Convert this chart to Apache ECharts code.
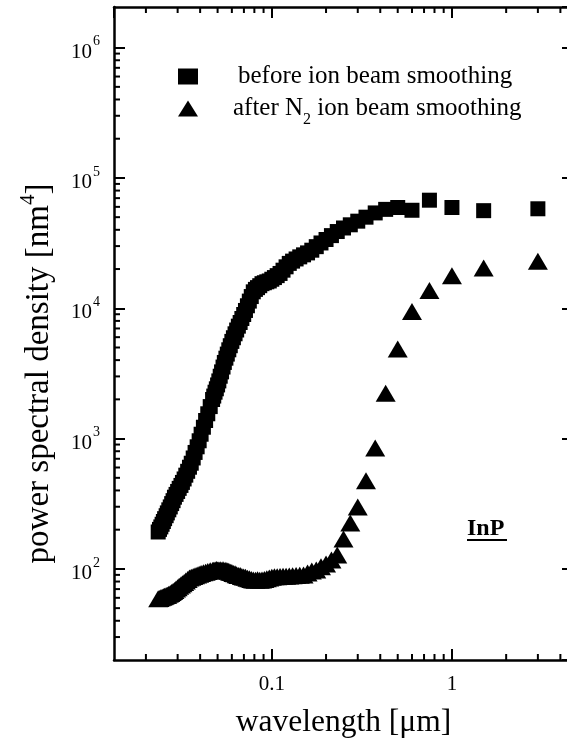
<!DOCTYPE html>
<html>
<head>
<meta charset="utf-8">
<script src="https://cdn.jsdelivr.net/npm/echarts@6/dist/echarts.min.js"></script>
<style>
  html, body { margin: 0; padding: 0; background: #fff; }
  #chart { width: 567px; height: 744px; }
</style>
</head>
<body>
<div id="chart"></div>
<script>
// Wavelength of each PSD point, in micrometres
const wavelength = [
  3, 1.5, 1, 0.75, 0.6, 0.5, 0.4286, 0.375, 0.3333, 0.3,
  0.2727, 0.25, 0.2308, 0.2143, 0.2, 0.1875, 0.1765, 0.1667, 0.1579, 0.15,
  0.1429, 0.1364, 0.1304, 0.125, 0.12, 0.1154, 0.1111, 0.1071, 0.1034, 0.1,
  0.0968, 0.0938, 0.0909, 0.0882, 0.0857, 0.0833, 0.0811, 0.0789, 0.0769, 0.075,
  0.0732, 0.0714, 0.0698, 0.0682, 0.0667, 0.0652, 0.0638, 0.0625, 0.0612, 0.06,
  0.0588, 0.0577, 0.0566, 0.0556, 0.0545, 0.0536, 0.0526, 0.0517, 0.0508, 0.05,
  0.0492, 0.0484, 0.0476, 0.0469,
  0.0455, 0.0441, 0.0429, 0.0417, 0.0405, 0.0395, 0.0385, 0.0375, 0.0366, 0.0357,
  0.0349, 0.0341, 0.0333, 0.0326, 0.0319, 0.0313, 0.0306, 0.03, 0.0294, 0.0288,
  0.0283, 0.0278, 0.0273, 0.0268, 0.0263, 0.0259, 0.0254, 0.025, 0.0246, 0.0242,
  0.0238, 0.0234
];

// Power spectral density [nm^4] before smoothing
const psdBefore = [
  58000, 56100, 59300, 67500, 56500, 59300, 57400, 53900, 50000, 46600,
  43700, 41300, 38800, 36100, 33700, 31700, 29700, 27900, 26600, 25700,
  24800, 23900, 23000, 22100, 20800, 19600, 18500, 17800, 17200, 16700,
  16200, 15960, 15700, 15450, 14900, 14400, 13960, 13370, 12300, 11350,
  10450, 9620, 8960, 8350, 7780, 7290, 6810, 6370, 5940, 5570,
  5160, 4800, 4450, 4140, 3840, 3540, 3250, 3010, 2770, 2580,
  2410, 2270, 2120, 1995,
  1760, 1550, 1377, 1222, 1080, 962, 865, 783, 710, 647,
  603, 561, 524, 490, 461, 437, 415, 393, 373, 355,
  334, 317, 299, 284, 269, 256, 243, 231, 220, 210,
  201, 192
];

// Power spectral density [nm^4] after N2 ion beam smoothing
const psdAfter = [
  22900, 20400, 17800, 13700, 9440, 4870, 2230, 845, 474, 299,
  225, 170, 128, 117, 109, 104, 98.2, 96.5, 93.2, 89.9,
  89.6, 89.1, 88.7, 88.4, 88.0, 87.7, 87.4, 87.2, 86.9, 86.4,
  85.1, 84.1, 82.9, 82.3, 82.0, 82.6, 81.8, 82.3, 83.0, 83.9,
  84.8, 86.2, 86.5, 87.4, 88.9, 89.1, 90.3, 91.8, 92.4, 93.8,
  94.3, 96.0, 96.2, 97.6, 96.9, 98.4, 97.4, 98.6, 97.9, 98.1,
  99.0, 97.9, 97.6, 97.2,
  96.7, 95.5, 94.3, 93.3, 92.2, 91.0, 89.8, 88.5, 87.4, 86.2,
  85.0, 82.8, 80.7, 78.8, 76.9, 75.2, 73.5, 71.7, 70.0, 68.4,
  67.0, 65.8, 64.7, 63.8, 62.9, 62.4, 61.8, 61.2, 60.7, 60.0,
  59.4, 58.9
];

// Minor tick positions (2..9 within each decade)
const xMinorTicks = [0.02, 0.03, 0.04, 0.05, 0.06, 0.07, 0.08, 0.09,
  0.2, 0.3, 0.4, 0.5, 0.6, 0.7, 0.8, 0.9, 2, 3, 4];
const yMinorTicks = [30, 40, 50, 60, 70, 80, 90,
  200, 300, 400, 500, 600, 700, 800, 900,
  2000, 3000, 4000, 5000, 6000, 7000, 8000, 9000,
  20000, 30000, 40000, 50000, 60000, 70000, 80000, 90000,
  200000, 300000, 400000, 500000, 600000, 700000, 800000, 900000];

const NAME_BEFORE = 'before ion beam smoothing';
const NAME_AFTER = 'after N2 ion beam smoothing';

const FONT = '"Liberation Serif", "Times New Roman", Times, serif';
const X_MIN = 0.0133, X_MAX = 4.7;
const Y_MIN = 20, Y_MAX = 2.05e6;

function pairs(xs, ys) { return xs.map((x, i) => [x, ys[i]]); }
function isDecade(v) {
  const e = Math.log10(v);
  return Math.abs(e - Math.round(e)) < 1e-6;
}

const lineStyle = { color: '#000', width: 2.5 };
const tickStyle = { color: '#000', width: 2 };

function xAxisCfg(position, showLabels) {
  return {
    type: 'log', logBase: 10, position: position, min: X_MIN, max: X_MAX,
    splitLine: { show: false },
    axisLine: { show: true, onZero: false, lineStyle: lineStyle },
    axisTick: { show: true, inside: true, length: 11, lineStyle: tickStyle },
    minorTick: { show: false },
    axisLabel: {
      show: showLabels, margin: 14, color: '#000', fontFamily: FONT, fontSize: 21,
      showMinLabel: false, showMaxLabel: false,
      formatter: v => (isDecade(v) ? String(Number(v.toPrecision(6))) : '')
    }
  };
}
function yAxisCfg(position, showLabels) {
  return {
    type: 'log', logBase: 10, position: position, min: Y_MIN, max: Y_MAX,
    splitLine: { show: false },
    axisLine: { show: true, onZero: false, lineStyle: lineStyle },
    axisTick: { show: true, inside: true, length: 11, lineStyle: tickStyle },
    minorTick: { show: false },
    axisLabel: {
      show: showLabels, margin: 14, color: '#000', fontFamily: FONT,
      showMinLabel: false, showMaxLabel: false,
      formatter: v => (isDecade(v) ? '{b|10}{s|' + Math.round(Math.log10(v)) + '}' : ''),
      rich: {
        b: { fontFamily: FONT, fontSize: 21, color: '#000', lineHeight: 30, verticalAlign: 'bottom' },
        s: { fontFamily: FONT, fontSize: 14, color: '#000', lineHeight: 30, verticalAlign: 'top', padding: [2, 0, 0, 1] }
      }
    }
  };
}

// Short inward minor ticks drawn on both opposite frame edges
function minorTicks(isX, len) {
  return function (params, api) {
    const cs = params.coordSys;
    const p = api.coord([api.value(0), api.value(1)]);
    const style = { stroke: '#000', lineWidth: 2 };
    let a, b;
    if (isX) {
      const y0 = cs.y + cs.height, y1 = cs.y;
      a = { x1: p[0], y1: y0, x2: p[0], y2: y0 - len };
      b = { x1: p[0], y1: y1, x2: p[0], y2: y1 + len };
    } else {
      const x0 = cs.x, x1 = cs.x + cs.width;
      a = { x1: x0, y1: p[1], x2: x0 + len, y2: p[1] };
      b = { x1: x1, y1: p[1], x2: x1 - len, y2: p[1] };
    }
    return { type: 'group', children: [
      { type: 'line', shape: a, style: style },
      { type: 'line', shape: b, style: style }
    ] };
  };
}

const chart = echarts.init(document.getElementById('chart'), null, { renderer: 'canvas' });

const bottomX = xAxisCfg('bottom', true);
bottomX.name = 'wavelength [\u03bcm]';
bottomX.nameLocation = 'middle';
bottomX.nameGap = 47;
bottomX.nameTextStyle = { fontFamily: FONT, fontSize: 31.5, color: '#000' };

const leftY = yAxisCfg('left', true);
leftY.name = '{t|power spectral density [nm}{sup|4}{t|]}';
leftY.nameLocation = 'middle';
leftY.nameRotate = 90;
leftY.nameGap = 58;
leftY.nameTextStyle = {
  fontFamily: FONT, fontSize: 33, color: '#000', padding: [0, 80, 0, 0],
  rich: {
    t: { fontFamily: FONT, fontSize: 33, color: '#000', lineHeight: 38, verticalAlign: 'bottom' },
    sup: { fontFamily: FONT, fontSize: 21, color: '#000', lineHeight: 38, verticalAlign: 'top' }
  }
};

chart.setOption({
  animation: false,
  backgroundColor: '#fff',
  // the plot frame runs a few pixels past the right edge of the page
  grid: { left: 114, right: -6, top: 7, bottom: 84, containLabel: false, outerBoundsMode: 'none' },
  xAxis: [bottomX, xAxisCfg('top', false)],
  yAxis: [leftY, yAxisCfg('right', false)],
  legend: {
    orient: 'vertical', left: 173, top: 59,
    itemWidth: 20, itemHeight: 16, itemGap: 7,
    selectedMode: false,
    data: [NAME_BEFORE, NAME_AFTER],
    formatter: name => name === NAME_AFTER
      ? '{p2|}{t|after N}{sub|2}{t| ion beam smoothing}'
      : '{p1|}{t|' + name + '}',
    textStyle: {
      fontFamily: FONT, fontSize: 25, color: '#000',
      rich: {
        p1: { width: 35 },
        p2: { width: 30 },
        t: { fontFamily: FONT, fontSize: 25, color: '#000', lineHeight: 26 },
        sub: { fontFamily: FONT, fontSize: 16, color: '#000', lineHeight: 26, verticalAlign: 'bottom', padding: [0, 0, -6, 0] }
      }
    }
  },
  graphic: [
    { type: 'text', left: 467, top: 517, z: 10,
      style: { text: 'InP', font: 'bold 24px ' + FONT, fill: '#000' } },
    { type: 'rect', left: 467, top: 539, z: 10,
      shape: { width: 40, height: 2 }, style: { fill: '#000' } }
  ],
  series: [
    {
      name: NAME_BEFORE, type: 'scatter', symbol: 'rect', symbolSize: 15,
      itemStyle: { color: '#000', opacity: 1 }, silent: true, z: 3,
      data: pairs(wavelength, psdBefore)
    },
    {
      name: NAME_AFTER, type: 'scatter', symbol: 'triangle', symbolSize: [20, 17],
      itemStyle: { color: '#000', opacity: 1 }, silent: true, z: 3,
      data: pairs(wavelength, psdAfter)
    },
    {
      type: 'custom', silent: true, z: 4, clip: false,
      renderItem: minorTicks(true, 6),
      encode: { x: 0, y: 1 },
      data: xMinorTicks.map(v => [v, 100])
    },
    {
      type: 'custom', silent: true, z: 4, clip: false,
      renderItem: minorTicks(false, 6),
      encode: { x: 0, y: 1 },
      data: yMinorTicks.map(v => [0.1, v])
    }
  ]
});
</script>
</body>
</html>
